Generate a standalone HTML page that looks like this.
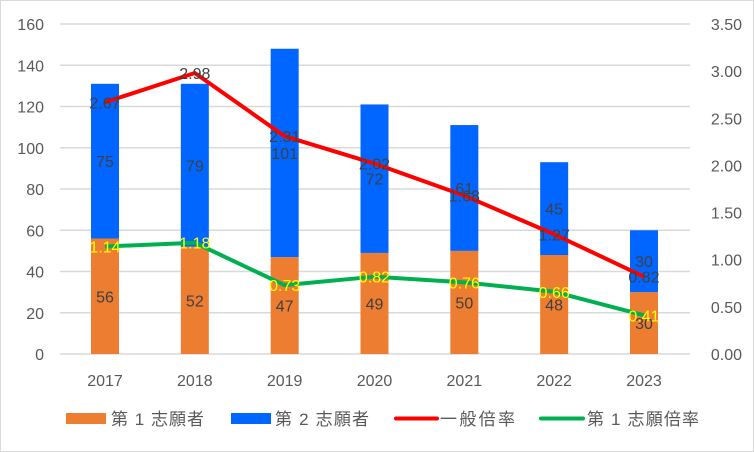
<!DOCTYPE html>
<html><head><meta charset="utf-8"><style>
body{margin:0;background:#fff}
svg{display:block;font-family:"Liberation Sans","Noto Sans CJK JP",sans-serif}
</style></head><body>
<svg id="c" width="754" height="452">
<rect x="0.5" y="0.5" width="753" height="451" fill="#fff" stroke="#d9d9d9"/>
<g id="grid"></g><g id="bars"></g><g id="lines"></g><g id="labels"></g><g id="axes"></g>
<g id="legend" font-size="17" fill="#595959">
<g><rect x="66" y="413" width="40" height="11" fill="#ED7D31"/><text x="111" y="425" textLength="93">第 1 志願者</text></g>
<g><rect x="231" y="413" width="40" height="11" fill="#0066FF"/><text x="275" y="425" textLength="94">第 2 志願者</text></g>
<g><line x1="396" y1="418.5" x2="437" y2="418.5" stroke="#FF0000" stroke-width="4" stroke-linecap="round"/><text x="440" y="425" textLength="75">一般倍率</text></g>
<g><line x1="541" y1="418.5" x2="583" y2="418.5" stroke="#00B050" stroke-width="4" stroke-linecap="round"/><text x="587" y="425" textLength="112">第 1 志願倍率</text></g>
</g>
</svg>
<script>
const years=["2017","2018","2019","2020","2021","2022","2023"];
const first=[56,52,47,49,50,48,30];
const second=[75,79,101,72,61,45,30];
const generalRate=[2.67,2.98,2.31,2.02,1.68,1.27,0.82];
const firstRate=[1.14,1.18,0.73,0.82,0.76,0.66,0.41];
const leftTicks=[0,20,40,60,80,100,120,140,160];
const rightTicks=["0.00","0.50","1.00","1.50","2.00","2.50","3.00","3.50"];
const NS="http://www.w3.org/2000/svg";
const y0=354,yTop=24,xL=60,xR=690,bw=28;
const yL=v=>y0-(v/160)*(y0-yTop);
const yR=v=>y0-(v/3.5)*(y0-yTop);
const xC=i=>105+i*(644-105)/(years.length-1);
function mk(p,tag,a,txt){const e=document.createElementNS(NS,tag);for(const k in a)e.setAttribute(k,a[k]);if(txt!=null)e.textContent=txt;document.getElementById(p).appendChild(e);return e;}
leftTicks.forEach(t=>{
 const g=mk("grid","line",{x1:xL,x2:xR,y1:yL(t),y2:yL(t),stroke:"#d9d9d9","stroke-width":1.5});
 
 
 const l=mk("axes","text",{x:44,y:yL(t)+6,"text-anchor":"end","font-size":16,fill:"#595959"},t);
 
 
});
rightTicks.forEach(t=>{
 const l=mk("axes","text",{x:742,y:yR(+t)+6,"text-anchor":"end","font-size":16,fill:"#595959"},t);
 
 
});
years.forEach((yr,i)=>{
 const x=xC(i);
 const l=mk("axes","text",{x:x,y:386,"text-anchor":"middle","font-size":16,fill:"#595959"},yr);
 
 
 const b1=mk("bars","rect",{x:x-bw/2,y:yL(first[i]),width:bw,height:y0-yL(first[i]),fill:"#ED7D31"});
 
 
 const b2=mk("bars","rect",{x:x-bw/2,y:yL(first[i]+second[i]),width:bw,height:yL(first[i])-yL(first[i]+second[i]),fill:"#0066FF"});
 
 
 const t1=mk("labels","text",{x:x,y:(yL(first[i])+y0)/2+6,"text-anchor":"middle","font-size":16,fill:"#404040"},first[i]);
 
 
 const t2=mk("labels","text",{x:x,y:(yL(first[i])+yL(first[i]+second[i]))/2+6,"text-anchor":"middle","font-size":16,fill:"#404040"},second[i]);
 
 
});
function line(arr,color,name){
 const p=mk("lines","polyline",{points:arr.map((v,i)=>xC(i)+","+yR(v)).join(" "),fill:"none",stroke:color,"stroke-width":4,"stroke-linejoin":"round"});
 
 
}
line(generalRate,"#FF0000","general-rate-line");
line(firstRate,"#00B050","first-rate-line");
generalRate.forEach((v,i)=>{
 const t=mk("labels","text",{x:xC(i),y:yR(v)+6,"text-anchor":"middle","font-size":16,fill:"#404040"},v.toFixed(2));
 
 
});
firstRate.forEach((v,i)=>{
 const t=mk("labels","text",{x:xC(i),y:yR(v)+6,"text-anchor":"middle","font-size":16,fill:"#FFFF00"},v.toFixed(2));
 
 
});
</script>
</body></html>
